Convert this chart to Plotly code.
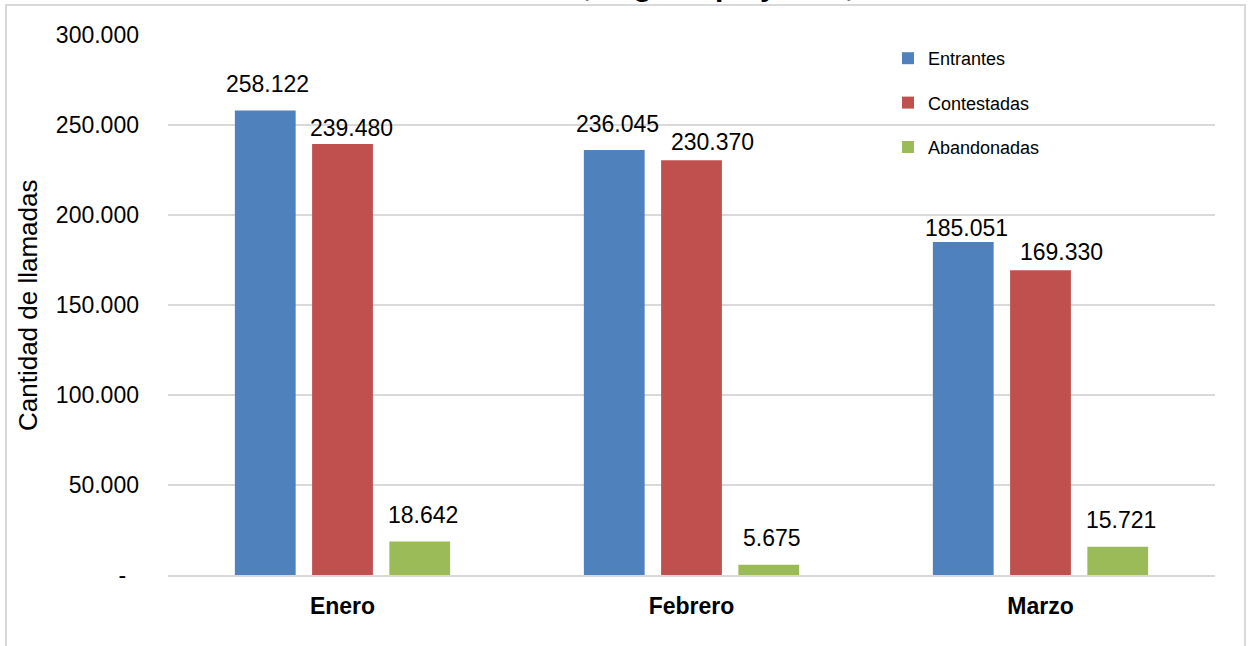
import plotly.graph_objects as go

# ---- data ----
categories = ["Enero", "Febrero", "Marzo"]
series_names = ["Entrantes", "Contestadas", "Abandonadas"]
entrantes = [258122, 236045, 185051]
contestadas = [239480, 230370, 169330]
abandonadas = [18642, 5675, 15721]
y_tickvals = [0, 50000, 100000, 150000, 200000, 250000, 300000]
y_ticktext = ["-\u00a0\u00a0", "50.000", "100.000", "150.000", "200.000", "250.000", "300.000"]
title_text = "Cantidad de llamadas, según tipo y mes, 2021"
y_title = "Cantidad de llamadas"

# ---- styles ----
colors = ["#4F81BD", "#C0504D", "#9BBB59"]
FONT = "Arial, 'Liberation Sans', sans-serif"
W, H = 1249, 646
ML, MR, MT, MB = 168, 34, 35, 71
PW, PH = W - ML - MR, H - MT - MB
BARGAP, BARGROUPGAP = 0.336, 0.213
NUM_SIZE = 23
# per-label pixel nudges (dx, gap above bar) copied from the reference layout
label_nudge = {
    "Entrantes": [(2, 17), (3, 17), (3, 5)],
    "Contestadas": [(9, 7), (21, 9), (21, 9)],
    "Abandonadas": [(3, 17), (3, 18), (3, 18)],
}

def px_x(p):
    return (p - ML) / PW

def px_y(p):
    return (H - MB - p) / PH

fig = go.Figure()
all_vals = [entrantes, contestadas, abandonadas]
for name, vals, col in zip(series_names, all_vals, colors):
    fig.add_trace(go.Bar(
        name=name, x=categories, y=vals,
        marker=dict(color=col, line=dict(width=0)),
        legendgroup=name,
        hoverinfo="x+y+name",
    ))

slot = PW / len(categories) * (1 - BARGAP) / 3
annotations = []
for si, (name, vals) in enumerate(zip(series_names, all_vals)):
    for ci, (cat, v) in enumerate(zip(categories, vals)):
        dx, gap = label_nudge[name][ci]
        annotations.append(dict(
            x=cat, y=v, xref="x", yref="y",
            text=f"{v:,}".replace(",", "."),
            showarrow=False, xanchor="center", yanchor="bottom",
            xshift=(si - 1) * slot + dx, yshift=gap - (0.212 * NUM_SIZE + 1),
            font=dict(family=FONT, size=NUM_SIZE, color="#000000"),
        ))

# y-axis title
annotations.append(dict(
    x=px_x(28), y=0.5, xref="paper", yref="paper", text=y_title,
    textangle=-90, showarrow=False, xanchor="center", yanchor="middle",
    font=dict(family=FONT, size=26, color="#000000"),
))
# chart title (cropped by the top of the picture)
annotations.append(dict(
    x=px_x(273), y=1, xref="paper", yref="paper", text=f"<b>{title_text}</b>",
    showarrow=False, xanchor="left", yanchor="bottom", yshift=MT - 4,
    font=dict(family=FONT, size=30, color="#000000"),
))

fig.update_layout(
    width=W, height=H,
    margin=dict(l=ML, r=MR, t=MT, b=MB, pad=0),
    paper_bgcolor="#FFFFFF", plot_bgcolor="#FFFFFF",
    barmode="group", bargap=BARGAP, bargroupgap=BARGROUPGAP,
    font=dict(family=FONT, size=NUM_SIZE, color="#000000"),
    showlegend=True,
    legend=dict(
        x=px_x(888), y=px_y(40), xanchor="left", yanchor="top",
        font=dict(family=FONT, size=18, color="#000000"),
        bgcolor="rgba(0,0,0,0)", tracegroupgap=18, itemwidth=30,
    ),
    xaxis=dict(
        type="category", showgrid=False, showline=True,
        linecolor="#D9D9D9", linewidth=2, ticks="",
        tickfont=dict(family=FONT, size=NUM_SIZE, color="#000000", weight="bold"),
        ticklabelstandoff=9, fixedrange=True,
    ),
    yaxis=dict(
        range=[0, 300000], tickvals=y_tickvals, ticktext=y_ticktext,
        showgrid=True, gridcolor="#D9D9D9", gridwidth=2,
        zeroline=False, showline=False, ticks="",
        tickfont=dict(family=FONT, size=NUM_SIZE, color="#000000"),
        ticklabelstandoff=28, fixedrange=True,
    ),
    annotations=annotations,
    shapes=[dict(
        type="rect", xref="paper", yref="paper",
        x0=px_x(6), x1=px_x(1245), y0=px_y(700), y1=px_y(5),
        line=dict(color="#D9D9D9", width=2), fillcolor="rgba(0,0,0,0)",
        layer="below",
    )],
)

fig.write_html(
    "out.html",
    config={"displayModeBar": False},
    post_script="document.body.style.margin='0';document.body.style.overflow='hidden';",
)
